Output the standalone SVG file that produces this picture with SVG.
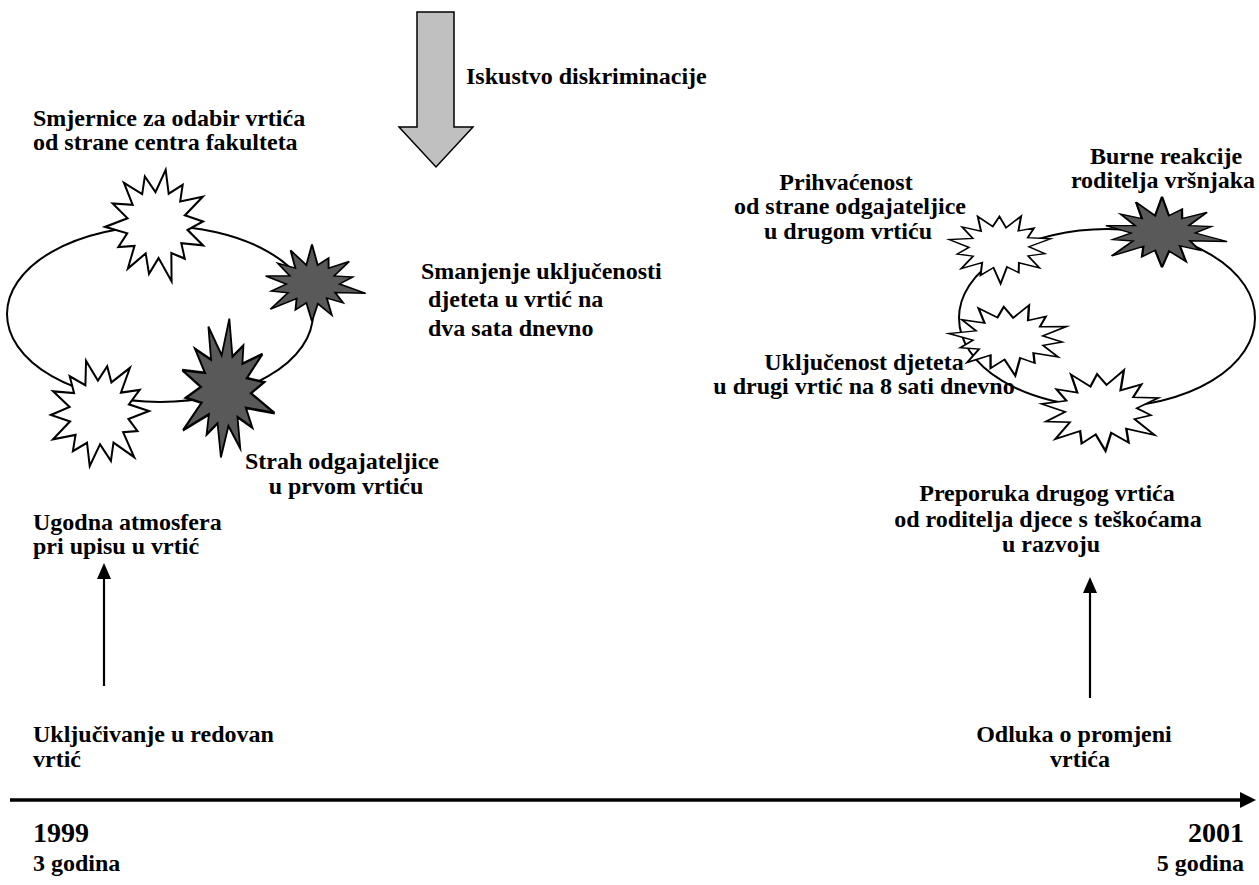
<svg xmlns="http://www.w3.org/2000/svg" xmlns:xlink="http://www.w3.org/1999/xlink" width="1259" height="885" viewBox="0 0 1259 885">
<style>
text{font-family:"Liberation Serif","Times New Roman",serif;font-weight:bold;font-size:24px;fill:#000}
.yr{font-size:28px}
.mid{text-anchor:middle}
.end{text-anchor:end}
.ell{fill:none;stroke:#000;stroke-width:2}
.st{stroke:#000;stroke-width:2;stroke-linejoin:miter}
.w{fill:#fff}
.d{fill:#595959}
.ln{stroke:#000;stroke-width:2.2;fill:none}
</style>
<defs>
<polygon id="starA" points="0,-50 6.7,-29.2 19.1,-39.6 19.3,-24.2 40.7,-32.4 26.1,-12.6 44.8,-10.2 31,0 48.7,11.1 27,13 32.8,26.2 18.7,23.5 23.4,48.7 6.9,30.2 0,46 -6.5,28.3 -21.7,45.1 -18.7,23.5 -34.4,27.4 -27.9,13.5 -50.7,11.6 -30,0 -46.8,-10.7 -27,-13 -39.1,-31.2 -19.3,-24.2 -19.5,-40.5 -6.5,-28.3"/>
<polygon id="starB" points="0,-55 6,-26.3 17.4,-36 17.5,-21.9 39.1,-31.2 23.4,-11.3 42.9,-9.8 29,0 56.5,12.9 24.3,11.7 32.8,26.2 15.6,19.5 20.8,43.2 6.2,27.3 0,52 -6,26.3 -17.4,36 -16.2,20.3 -43.8,34.9 -25.2,12.1 -42.9,9.8 -27,0 -48.7,-11.1 -23.4,-11.3 -36,-28.7 -17.5,-21.9 -22.6,-46.9 -6,-26.3"/>
</defs>
<g id="connectors">
<ellipse class="ell" cx="160" cy="314" rx="153" ry="88"/>
<ellipse class="ell" cx="1107" cy="318" rx="148" ry="89"/>
<polygon points="417,12 454,12 454,127 473,127 436,167 399,127 417,127" fill="#c0c0c0" stroke="#000" stroke-width="1.5"/>
<line class="ln" x1="104" y1="686" x2="104" y2="575"/>
<polygon points="97,579 104,563 111,579" fill="#000"/>
<line class="ln" x1="1090" y1="698" x2="1090" y2="589"/>
<polygon points="1083,593 1090,577 1097,593" fill="#000"/>
<line x1="10" y1="800" x2="1243" y2="800" stroke="#000" stroke-width="3.5"/>
<polygon points="1240,792 1256,800 1240,808" fill="#000"/>
</g>
<g id="star-smjernice"><use xlink:href="#starA" class="st w" transform="translate(157,224) scale(1,1.1) rotate(10)"/></g>
<g id="star-smanjenje"><use xlink:href="#starB" class="st d" transform="translate(312,284) scale(0.95,0.72)"/></g>
<g id="star-ugodna"><use xlink:href="#starA" class="st w" transform="translate(99,413) scale(1,1.08) rotate(-15)"/></g>
<g id="star-strah"><use xlink:href="#starB" class="st d" transform="translate(225,390) scale(0.9,1.3) rotate(5)"/></g>
<g id="star-prihvacenost"><use xlink:href="#starA" class="st w" transform="translate(1000,247) scale(1,0.68) rotate(25)"/></g>
<g id="star-burne"><use xlink:href="#starB" class="st d" transform="translate(1162,233) scale(1.15,0.66)"/></g>
<g id="star-ukljucenost"><use xlink:href="#starA" class="st w" transform="translate(1009,338) scale(1.17,0.7) rotate(20)"/></g>
<g id="star-preporuka"><use xlink:href="#starA" class="st w" transform="translate(1101,410) scale(1.2,0.82) rotate(-30)"/></g>
<g id="label-iskustvo"><text x="466" y="84">Iskustvo diskriminacije</text></g>
<g id="label-smjernice"><text x="33" y="126">Smjernice za odabir vrtića</text><text x="33" y="150">od strane centra fakulteta</text></g>
<g id="label-smanjenje"><text x="421" y="279">Smanjenje uključenosti</text><text x="428" y="307">djeteta u vrtić na</text><text x="428" y="336">dva sata dnevno</text></g>
<g id="label-strah"><text x="245" y="469">Strah odgajateljice</text><text class="mid" x="346" y="494">u prvom vrtiću</text></g>
<g id="label-ugodna"><text x="33" y="530">Ugodna atmosfera</text><text x="33" y="554">pri upisu u vrtić</text></g>
<g id="label-ukljucivanje"><text x="33" y="742">Uključivanje u redovan</text><text x="33" y="767">vrtić</text></g>
<g id="label-1999"><text class="yr" x="33" y="842">1999</text><text x="33" y="871">3 godina</text></g>
<g id="label-2001"><text class="yr end" x="1244" y="842">2001</text><text class="end" x="1244" y="871">5 godina</text></g>
<g id="label-burne"><text class="mid" x="1166" y="164">Burne reakcije</text><text class="mid" x="1163" y="188">roditelja vršnjaka</text></g>
<g id="label-prihvacenost"><text class="mid" x="846" y="190">Prihvaćenost</text><text class="mid" x="850" y="214">od strane odgajateljice</text><text class="mid" x="848" y="239">u drugom vrtiću</text></g>
<g id="label-ukljucenost"><text class="mid" x="864" y="370">Uključenost djeteta</text><text class="mid" x="864" y="394">u drugi vrtić na 8 sati dnevno</text></g>
<g id="label-preporuka"><text class="mid" x="1047" y="501">Preporuka drugog vrtića</text><text class="mid" x="1048" y="527">od roditelja djece s teškoćama</text><text class="mid" x="1051" y="552">u razvoju</text></g>
<g id="label-odluka"><text class="mid" x="1074" y="742">Odluka o promjeni</text><text class="mid" x="1080" y="767">vrtića</text></g>
</svg>
